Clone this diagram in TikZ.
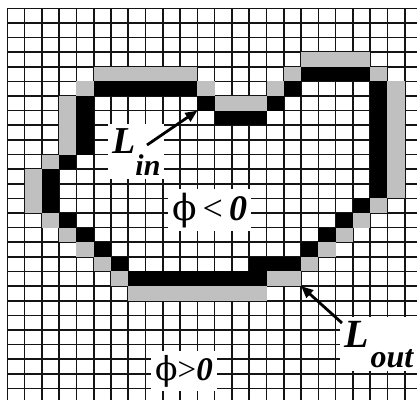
\documentclass[tikz,border=0pt]{standalone}
\usepackage{fontspec}
\setmainfont{Liberation Serif}
\newfontfamily\phifont{DejaVu Serif}
\usetikzlibrary{
  arrows.meta,
  positioning
}
\definecolor{CellGray}{RGB}{192,192,192}
\definecolor{GridInk}{RGB}{20,20,20}
\newcommand{\gridx}{7.3}
\newcommand{\gridy}{8.3}
\newcommand{\cellw}{17.28}
\newcommand{\cellh}{14.62}
\newcommand{\bigit}[1]{\fontsize{#1}{#1}\selectfont\bfseries\itshape}
\tikzset{
  gridline/.style={draw=GridInk,line width=1.6pt},
  edgecell/.style={fill=black},
  halocell/.style={fill=CellGray},
  labelbox/.style={fill=white,inner sep=4pt,anchor=base west},
  pointer/.style={-{Triangle[length=12pt,width=10pt]},line width=2.8pt,draw=black}
}

\begin{document}
\begin{tikzpicture}[x=1pt,y=-1pt]
\useasboundingbox (0,0) rectangle (417,400);
% grid
\foreach \i in {0,...,23}
  \draw[gridline] ({\gridx+\i*\cellw},\gridy) -- ({\gridx+\i*\cellw},400);
\foreach \j in {0,...,26}
  \draw[gridline] (\gridx,{\gridy+\j*\cellh}) -- (417,{\gridy+\j*\cellh});
% outer gray layer (row/first col/last col)
\foreach \r/\a/\b in {3/17/20, 4/5/10, 4/16/16, 4/21/21, 5/4/4, 5/11/11, 5/15/15, 5/22/22,
    6/3/3, 6/12/14, 6/22/22, 7/3/3, 7/22/22, 8/3/3, 8/22/22, 9/3/3, 9/22/22, 10/2/2, 10/22/22,
    11/1/1, 11/22/22, 12/1/1, 12/22/22, 13/1/1, 13/21/21, 14/2/2, 14/20/20, 15/3/3, 15/19/19,
    16/4/4, 16/18/18, 17/5/5, 17/17/17, 18/6/6, 18/15/16, 19/7/14}
  \fill[halocell] ({\gridx+\a*\cellw},{\gridy+\r*\cellh}) rectangle ({\gridx+(\b+1)*\cellw},{\gridy+(\r+1)*\cellh});
% black boundary
\foreach \r/\a/\b in {4/17/20, 5/5/10, 5/16/16, 5/21/21, 6/4/4, 6/11/11, 6/15/15, 6/21/21,
    7/4/4, 7/12/14, 7/21/21, 8/4/4, 8/21/21, 9/4/4, 9/21/21, 10/3/3, 10/21/21, 11/2/2, 11/21/21,
    12/2/2, 12/21/21, 13/2/2, 13/20/20, 14/3/3, 14/19/19, 15/4/4, 15/18/18, 16/5/5, 16/17/17,
    17/6/6, 17/14/16, 18/7/14}
  \fill[edgecell] ({\gridx+\a*\cellw},{\gridy+\r*\cellh}) rectangle ({\gridx+(\b+1)*\cellw},{\gridy+(\r+1)*\cellh});
% labels
\node[labelbox] (lin) at (108,153) {\bigit{38}L\raisebox{-22pt}{\bigit{30}in}};
\node[labelbox] (inside) at (168,220) {\fontsize{36}{36}\selectfont{\phifont ϕ}\,<\,{\bfseries\itshape 0}};
\node[labelbox] (lout) at (340,347) {\bigit{40}L\kern2pt\raisebox{-20pt}{\bigit{32}out}};
\node[labelbox] (outside) at (151,380) {\fontsize{33}{33}\selectfont{\phifont ϕ}>{\bfseries\itshape 0}};
% pointers
\coordinate (linTail) at (147,145);
\coordinate (linTip) at (197.4,110.6);
\coordinate (loutTail) at (342,323);
\coordinate (loutTip) at (301.1,286.1);
\draw[pointer] (linTail) -- (linTip);
\draw[pointer] (loutTail) -- (loutTip);
\end{tikzpicture}
\end{document}
